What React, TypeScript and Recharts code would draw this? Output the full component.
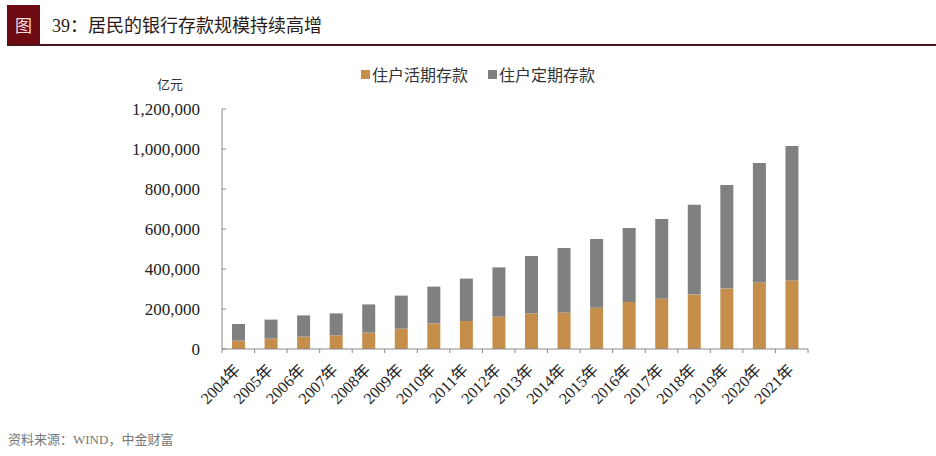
import { BarChart, Bar, XAxis, YAxis, Legend } from "recharts";

const years = [
  "2004年", "2005年", "2006年", "2007年", "2008年", "2009年",
  "2010年", "2011年", "2012年", "2013年", "2014年", "2015年",
  "2016年", "2017年", "2018年", "2019年", "2020年", "2021年",
];
// 住户活期存款 (亿元)
const huoqi = [
  42000, 52000, 62000, 68000, 82000, 102000, 128000, 140000, 162000,
  178000, 183000, 206000, 235000, 251000, 272000, 302000, 332000, 342000,
];
// 住户定期存款 (亿元)
const dingqi = [
  83000, 95000, 106000, 110000, 141000, 165000, 184000, 212000, 246000,
  287000, 322000, 344000, 370000, 399000, 449000, 518000, 598000, 673000,
];
const yTicks = [0, 200000, 400000, 600000, 800000, 1000000, 1200000];
const seriesNames = ["住户活期存款", "住户定期存款"];

const ORANGE = "#C58E4B";
const GRAY = "#808080";
const AXIS = "#8a8a8a";
const SERIF = "'Liberation Serif', 'Times New Roman', 'Noto Sans CJK SC', serif";
const SANS = "'Noto Sans CJK SC', 'Noto Sans', sans-serif";
const BAND = (808 - 222) / years.length;

const data = years.map((year, i) => ({ year, huoqi: huoqi[i], dingqi: dingqi[i] }));

function XTick(props: any) {
  const { x, y, payload, index } = props;
  const half = payload && payload.offset > 0 ? payload.offset : BAND / 2;
  return (
    <g>
      <line x1={x - half} x2={x - half} y1={y} y2={y + 4} stroke={AXIS} />
      {index === years.length - 1 && (
        <line x1={x + half} x2={x + half} y1={y} y2={y + 4} stroke={AXIS} />
      )}
      <g transform={`translate(${x + 3},${y + 22})`}>
        <text
          textAnchor="end"
          transform="rotate(-45)"
          fontFamily={SERIF}
          fontSize={16}
          fill="#222"
        >
          {payload.value}
        </text>
      </g>
    </g>
  );
}

function YTick(props: any) {
  const { x, y, payload } = props;
  return (
    <g>
      <line x1={x} x2={x + 4} y1={y} y2={y} stroke={AXIS} />
      <text
        x={x - 22}
        y={y}
        dy="0.35em"
        textAnchor="end"
        fontFamily={SERIF}
        fontSize={17}
        fill="#222"
      >
        {Number(payload.value).toLocaleString("en-US")}
      </text>
    </g>
  );
}

function LegendContent(props: any) {
  const items = [...(props.payload || [])].sort(
    (a: any, b: any) => seriesNames.indexOf(a.value) - seriesNames.indexOf(b.value)
  );
  return (
    <div
      style={{
        display: "flex",
        alignItems: "center",
        fontFamily: SANS,
        fontSize: 16,
        color: "#333",
        whiteSpace: "nowrap",
      }}
    >
      {items.map((it: any) => (
        <span
          key={it.value}
          style={{ display: "flex", alignItems: "center", marginRight: 20 }}
        >
          <span
            style={{
              display: "inline-block",
              width: 9,
              height: 9,
              background: it.color,
              marginRight: 2,
            }}
          />
          {it.value}
        </span>
      ))}
    </div>
  );
}

export default function App() {
  return (
    <div
      style={{
        position: "absolute",
        left: 0,
        top: 0,
        width: 936,
        height: 456,
        background: "#fff",
        overflow: "hidden",
      }}
    >
      {/* header */}
      <div
        style={{
          position: "absolute",
          left: 7,
          top: 5,
          width: 33,
          height: 40,
          background: "#6e0b12",
          color: "#f3dede",
          fontFamily: SANS,
          fontSize: 17,
          lineHeight: "40px",
          textAlign: "center",
        }}
      >
        图
      </div>
      <div
        style={{
          position: "absolute",
          left: 7,
          right: 0,
          top: 44,
          height: 2,
          background: "#4a1518",
        }}
      />
      <div
        style={{
          position: "absolute",
          left: 52,
          top: 13,
          fontFamily: SERIF,
          fontSize: 18,
          lineHeight: "26px",
          color: "#2a1a1a",
          whiteSpace: "nowrap",
        }}
      >
        39：居民的银行存款规模持续高增
      </div>
      <div
        style={{
          position: "absolute",
          left: 157,
          top: 74,
          fontFamily: SANS,
          fontSize: 13,
          color: "#333",
        }}
      >
        亿元
      </div>
      <div
        style={{
          position: "absolute",
          left: 8,
          top: 429,
          fontFamily: SERIF,
          fontSize: 13,
          color: "#777",
          whiteSpace: "nowrap",
        }}
      >
        资料来源：WIND，中金财富
      </div>

      <div style={{ position: "absolute", left: 0, top: 0 }}>
        <BarChart
          width={936}
          height={456}
          data={data}
          margin={{ top: 109, right: 128, left: 0, bottom: 0 }}
          barSize={13}
        >
          <XAxis
            dataKey="year"
            interval={0}
            height={107}
            axisLine={{ stroke: AXIS }}
            tickLine={false}
            tickSize={0}
            tickMargin={0}
            tick={<XTick />}
          />
          <YAxis
            type="number"
            domain={[0, 1200000]}
            ticks={yTicks}
            interval={0}
            width={222}
            axisLine={{ stroke: AXIS }}
            tickLine={false}
            tickSize={0}
            tickMargin={0}
            tick={<YTick />}
          />
          <Legend
            layout="vertical"
            verticalAlign="middle"
            align="center"
            wrapperStyle={{ top: 62, left: 361, width: 280 }}
            content={<LegendContent />}
          />
          <Bar
            dataKey="huoqi"
            name="住户活期存款"
            stackId="a"
            fill={ORANGE}
            isAnimationActive={false}
          />
          <Bar
            dataKey="dingqi"
            name="住户定期存款"
            stackId="a"
            fill={GRAY}
            isAnimationActive={false}
          />
        </BarChart>
      </div>
    </div>
  );
}
